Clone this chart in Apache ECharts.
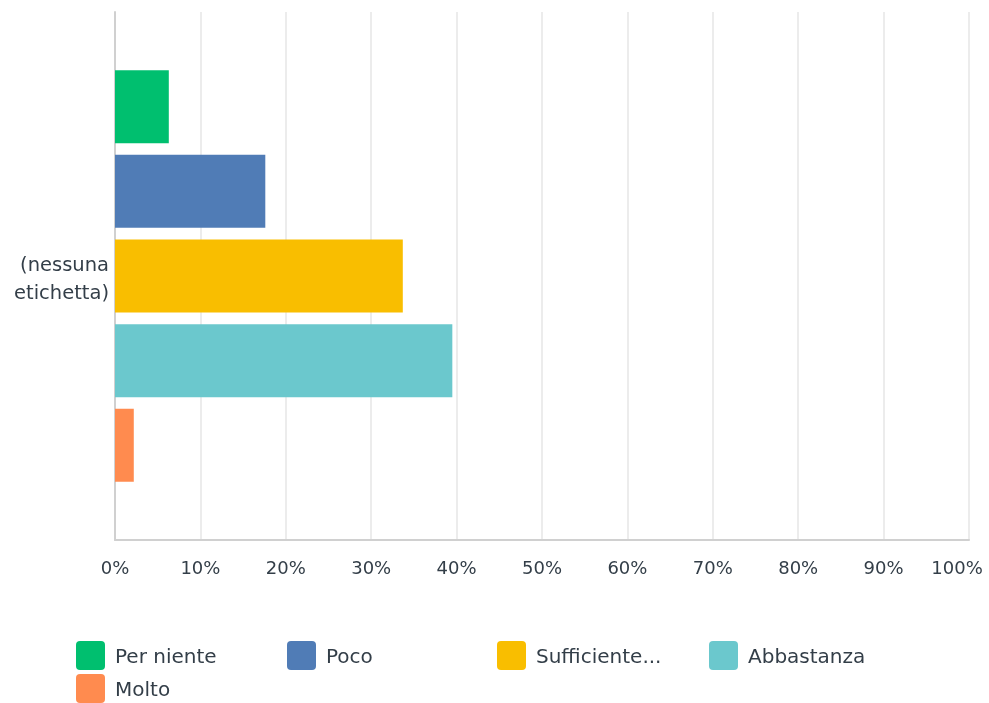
<!DOCTYPE html>
<html>
<head>
<meta charset="utf-8">
<script src="https://cdn.jsdelivr.net/npm/echarts@6/dist/echarts.min.js"></script>
<style>html,body{margin:0;padding:0;background:#fff}#c{width:989px;height:703px}</style>
</head>
<body>
<div id="c"></div>
<script>
const categories = ["(nessuna\netichetta)"];
const seriesNames = ["Per niente", "Poco", "Sufficiente...", "Abbastanza", "Molto"];
const seriesValues = [[6.3], [17.6], [33.7], [39.5], [2.2]];
const colors = ["#00bf6f", "#507cb6", "#f9be00", "#6bc8cd", "#ff8b4f"];
const xTicks = [0, 10, 20, 30, 40, 50, 60, 70, 80, 90, 100];

const font = "DejaVu Sans";
const textColor = "#333e48";
const legendPos = [[76, 641], [287, 641], [497, 641], [709, 641], [76, 674]];

const chart = echarts.init(document.getElementById('c'));
chart.setOption({
  animation: false,
  grid: { left: 115, right: 20, top: 12, bottom: 163, containLabel: false, outerBoundsMode: 'none' },
  xAxis: {
    type: 'value', min: xTicks[0], max: xTicks[xTicks.length - 1], interval: 10,
    axisLine: { show: true, lineStyle: { color: '#d0d0d0', width: 2 } },
    axisTick: { show: false },
    splitLine: { show: true, lineStyle: { color: '#ececec', width: 2 } },
    axisLabel: {
      formatter: v => v === xTicks[xTicks.length - 1] ? '{last|' + v + '%}' : v + '%',
      rich: { last: { color: textColor, fontFamily: font, fontSize: 18, padding: [0, 24, 0, 0] } },
      color: textColor, fontFamily: font, fontSize: 18, margin: 20, hideOverlap: false
    }
  },
  yAxis: {
    type: 'category', data: categories,
    axisLine: { show: true, lineStyle: { color: '#d0d0d0', width: 2 } },
    axisTick: { show: false },
    axisLabel: {
      formatter: v => '{t| }\n' + v.split('\n').map(s => '{a|' + s + '}').join('\n'),
      rich: {
        t: { fontSize: 1, lineHeight: 8 },
        a: { color: textColor, fontFamily: font, fontSize: 19.5, lineHeight: 28, align: 'right' }
      },
      margin: 6, align: 'right'
    },
    inverse: true
  },
  legend: seriesNames.map((n, i) => ({
    data: [n], left: legendPos[i][0], top: legendPos[i][1],
    itemWidth: 29, itemHeight: 29, itemGap: 0, padding: 0,
    icon: 'path://M4,0 L25,0 Q29,0 29,4 L29,25 Q29,29 25,29 L4,29 Q0,29 0,25 L0,4 Q0,0 4,0 Z',
    formatter: name => '{t| }\n{a|' + name + '}',
    textStyle: {
      rich: {
        t: { fontSize: 1, lineHeight: 5 },
        a: { color: textColor, fontFamily: font, fontSize: 20, lineHeight: 24, padding: [0, 0, 0, 5] }
      }
    }
  })),
  series: seriesNames.map((n, i) => ({
    name: n, type: 'bar', data: seriesValues[i],
    barWidth: 73, barGap: '16%',
    itemStyle: { color: colors[i] }
  }))
});
</script>
</body>
</html>
